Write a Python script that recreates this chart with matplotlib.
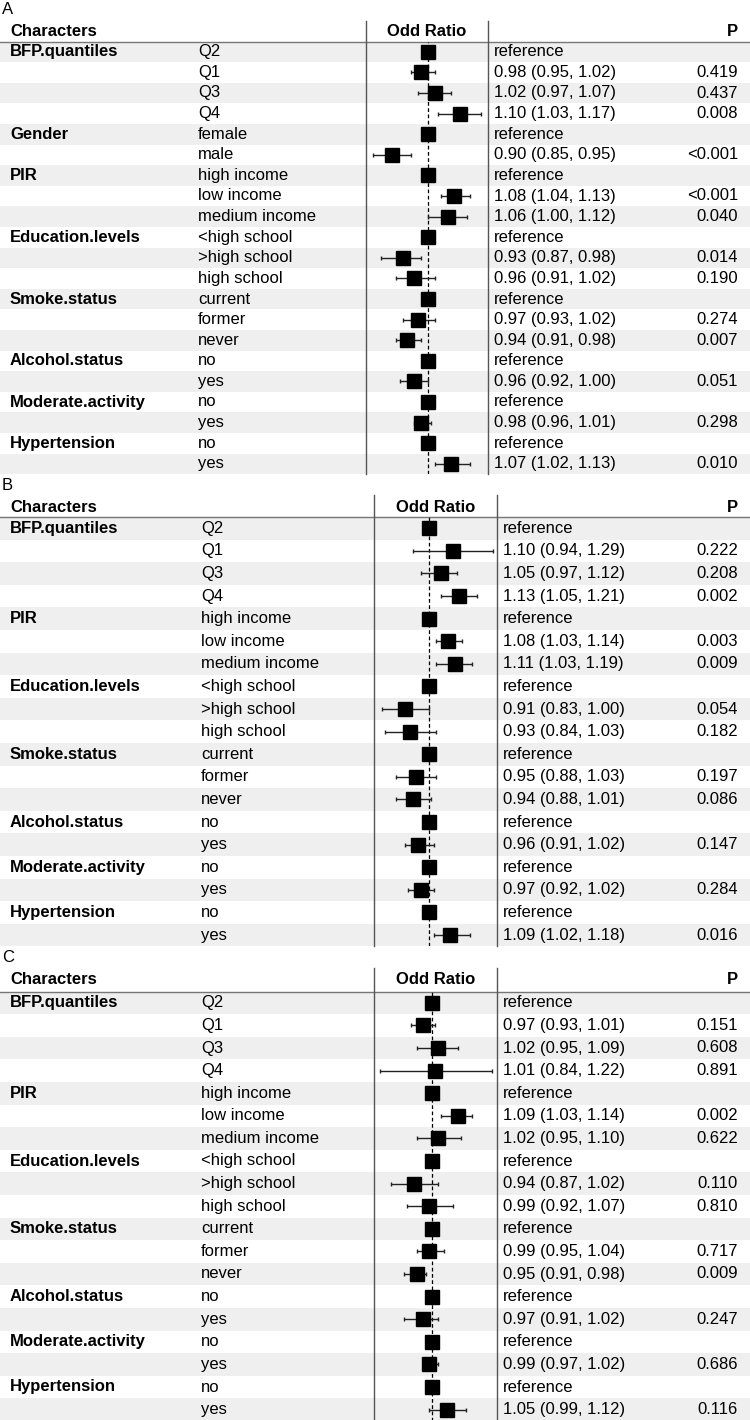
import matplotlib
matplotlib.use("Agg")
import matplotlib.pyplot as plt
import numpy as np
from matplotlib.patches import Rectangle

plt.rcParams['font.family'] = ['Liberation Sans', 'DejaVu Sans']
plt.rcParams['font.size'] = 12

nan = np.nan

# ---- data ----
groups_a = ["BFP.quantiles", "Gender", "PIR", "Education.levels", "Smoke.status",
            "Alcohol.status", "Moderate.activity", "Hypertension"]
levels_a = [["Q2", "Q1", "Q3", "Q4"], ["female", "male"],
            ["high income", "low income", "medium income"],
            ["<high school", ">high school", "high school"],
            ["current", "former", "never"], ["no", "yes"], ["no", "yes"], ["no", "yes"]]
or_a = [1.00, 0.98, 1.02, 1.10, 1.00, 0.90, 1.00, 1.08, 1.06, 1.00, 0.93, 0.96,
        1.00, 0.97, 0.94, 1.00, 0.96, 1.00, 0.98, 1.00, 1.07]
lo_a = [nan, 0.95, 0.97, 1.03, nan, 0.85, nan, 1.04, 1.00, nan, 0.87, 0.91,
        nan, 0.93, 0.91, nan, 0.92, nan, 0.96, nan, 1.02]
hi_a = [nan, 1.02, 1.07, 1.17, nan, 0.95, nan, 1.13, 1.12, nan, 0.98, 1.02,
        nan, 1.02, 0.98, nan, 1.00, nan, 1.01, nan, 1.13]
p_a = ["", "0.419", "0.437", "0.008", "", "<0.001", "", "<0.001", "0.040", "", "0.014", "0.190",
       "", "0.274", "0.007", "", "0.051", "", "0.298", "", "0.010"]

groups_bc = ["BFP.quantiles", "PIR", "Education.levels", "Smoke.status",
             "Alcohol.status", "Moderate.activity", "Hypertension"]
levels_bc = [["Q2", "Q1", "Q3", "Q4"],
             ["high income", "low income", "medium income"],
             ["<high school", ">high school", "high school"],
             ["current", "former", "never"], ["no", "yes"], ["no", "yes"], ["no", "yes"]]

or_b = [1.00, 1.10, 1.05, 1.13, 1.00, 1.08, 1.11, 1.00, 0.91, 0.93, 1.00, 0.95, 0.94,
        1.00, 0.96, 1.00, 0.97, 1.00, 1.09]
lo_b = [nan, 0.94, 0.97, 1.05, nan, 1.03, 1.03, nan, 0.83, 0.84, nan, 0.88, 0.88,
        nan, 0.91, nan, 0.92, nan, 1.02]
hi_b = [nan, 1.29, 1.12, 1.21, nan, 1.14, 1.19, nan, 1.00, 1.03, nan, 1.03, 1.01,
        nan, 1.02, nan, 1.02, nan, 1.18]
p_b = ["", "0.222", "0.208", "0.002", "", "0.003", "0.009", "", "0.054", "0.182",
       "", "0.197", "0.086", "", "0.147", "", "0.284", "", "0.016"]

or_c = [1.00, 0.97, 1.02, 1.01, 1.00, 1.09, 1.02, 1.00, 0.94, 0.99, 1.00, 0.99, 0.95,
        1.00, 0.97, 1.00, 0.99, 1.00, 1.05]
lo_c = [nan, 0.93, 0.95, 0.84, nan, 1.03, 0.95, nan, 0.87, 0.92, nan, 0.95, 0.91,
        nan, 0.91, nan, 0.97, nan, 0.99]
hi_c = [nan, 1.01, 1.09, 1.22, nan, 1.14, 1.10, nan, 1.02, 1.07, nan, 1.04, 0.98,
        nan, 1.02, nan, 1.02, nan, 1.12]
p_c = ["", "0.151", "0.608", "0.891", "", "0.002", "0.622", "", "0.110", "0.810",
       "", "0.717", "0.009", "", "0.247", "", "0.686", "", "0.116"]

# ---- layout (pixels) ----
W, H = 750, 1420
panels = [
    dict(tag="A", groups=groups_a, levels=levels_a, est=or_a, lo=lo_a, hi=hi_a, p=p_a,
         label_y=9, head_y=31, line_y=41.5, row_h=20.6, vtop=21,
         fx=(366, 488), level_x=198, est_x=494, xlim=(0.833, 1.193)),
    dict(tag="B", groups=groups_bc, levels=levels_bc, est=or_b, lo=lo_b, hi=hi_b, p=p_b,
         label_y=485, head_y=507, line_y=517, row_h=22.6, vtop=495,
         fx=(374, 497), level_x=201, est_x=503, xlim=(0.8055, 1.312)),
    dict(tag="C", groups=groups_bc, levels=levels_bc, est=or_c, lo=lo_c, hi=hi_c, p=p_c,
         label_y=958, head_y=980, line_y=991.5, row_h=22.6, vtop=968,
         fx=(374, 497), level_x=201, est_x=503, xlim=(0.823, 1.240)),
]

fig = plt.figure(figsize=(W / 100, H / 100), dpi=100)
bg = fig.add_axes([0, 0, 1, 1])
bg.set_xlim(0, W)
bg.set_ylim(H, 0)
bg.axis('off')

for pn in panels:
    n = len(pn["est"])
    h = pn["row_h"]
    top = pn["line_y"]
    bottom = top + n * h
    yc = top + h * (np.arange(n) + 0.5)

    # zebra shading
    for i in range(0, n, 2):
        bg.add_patch(Rectangle((0, top + i * h), W, h, color='#EFEFEF', lw=0, zorder=0))

    # header
    bg.text(2, pn["label_y"], pn["tag"], va='center', ha='left')
    bg.text(10, pn["head_y"], "Characters", weight='bold', va='center')
    bg.text(sum(pn["fx"]) / 2, pn["head_y"], "Odd Ratio", weight='bold', va='center', ha='center')
    bg.text(738, pn["head_y"], "P", weight='bold', va='center', ha='right')
    bg.plot([0, W], [top, top], color='#777777', lw=1, zorder=2)
    for x in pn["fx"]:
        bg.plot([x, x], [pn["vtop"], min(bottom, H)], color='#555555', lw=1, zorder=2)

    # table text
    r = 0
    for g, levs in zip(pn["groups"], pn["levels"]):
        bg.text(10, yc[r], g, weight='bold', va='center')
        for lev in levs:
            bg.text(pn["level_x"], yc[r], lev, va='center')
            e, lo, hi = pn["est"][r], pn["lo"][r], pn["hi"][r]
            if np.isnan(lo):
                s = "reference"
            else:
                s = f"{e:.2f} ({lo:.2f}, {hi:.2f})"
            bg.text(pn["est_x"], yc[r], s, va='center')
            bg.text(738, yc[r], pn["p"][r], va='center', ha='right')
            r += 1

    # forest
    fx0, fx1 = pn["fx"]
    ax = fig.add_axes([fx0 / W, 1 - bottom / H, (fx1 - fx0) / W, (bottom - top) / H])
    ax.set_xscale('log')
    ax.set_xlim(*pn["xlim"])
    ax.set_ylim(bottom, top)
    ax.axis('off')
    ax.patch.set_visible(False)
    ax.axvline(1, color='black', lw=0.9, ls=(0, (3, 2)), zorder=1)
    est = np.array(pn["est"])
    lo = np.array(pn["lo"])
    hi = np.array(pn["hi"])
    m = ~np.isnan(lo)
    ax.errorbar(est[m], yc[m], xerr=[est[m] - lo[m], hi[m] - est[m]], fmt='none',
                ecolor='#222222', elinewidth=1, capsize=1.6, capthick=1, zorder=2)
    ax.plot(est, yc, 's', ms=9.5, color='black', zorder=3, clip_on=False)

fig.savefig("out.png", dpi=100)
